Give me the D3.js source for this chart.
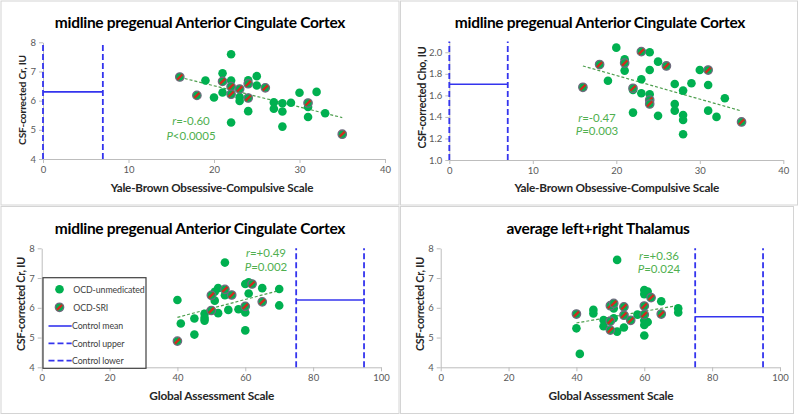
<!DOCTYPE html>
<html><head><meta charset="utf-8">
<script src="https://cdn.jsdelivr.net/npm/d3@7/dist/d3.min.js"></script>
<style>
body{margin:0;background:#fff;}
svg{display:block;font-family:Lato,"Open Sans",sans-serif;}
</style></head><body>
<svg id="c" width="800" height="415"></svg>
<script>
// ---------------- DATA ----------------
const titles = ["midline pregenual Anterior Cingulate Cortex","midline pregenual Anterior Cingulate Cortex","midline pregenual Anterior Cingulate Cortex","average left+right Thalamus"];
const xTitles = ["Yale-Brown Obsessive-Compulsive Scale","Yale-Brown Obsessive-Compulsive Scale","Global Assessment Scale","Global Assessment Scale"];
const yTitles = ["CSF-corrected Cr, IU","CSF-corrected Cho, IU","CSF-corrected Cr, IU","CSF-corrected Cr, IU"];
const xTicksYbocs = [0,10,20,30,40];
const xTicksGas = [0,20,40,60,80,100];
const yTicksCr = [4,5,6,7,8];
const yTicksCho = [1.0,1.2,1.4,1.6,1.8,2.0];
const legendLabels = ["OCD-unmedicated","OCD-SRI","Control mean","Control upper","Control lower"];
const statR = ["r=-0.60","r=-0.47","r=+0.49","r=+0.36"];
const statP = ["P<0.0005","P=0.003","P=0.002","P=0.024"];

// Panel 1: ACC Cr vs Y-BOCS
const accCrYbocsUnmed = [[19,6.69],[20,6.11],[21,6.94],[21,6.28],[22,7.59],[22,6.69],[22,5.25],[23,6.12],[23,5.99],[24,6.70],[24,5.64],[25,6.84],[25,6.52],[27,5.94],[27,5.72],[28,5.91],[28,5.63],[28,5.11],[29,5.93],[30,6.27],[31,5.78],[31,5.44],[32,6.30],[33,5.57]];
const accCrYbocsSri = [[16,6.81],[18,6.18],[21,6.66],[22,6.48],[22,6.22],[23,6.40],[24,6.58],[24,6.09],[26,6.44],[31,5.92],[35,4.85]];
const accCrYbocsTrend = [[16,6.80],[35,5.42]];
const accCrYbocsControl = {mean:6.30, lower:0, upper:7};

// Panel 2: ACC Cho vs Y-BOCS
const accChoYbocsUnmed = [[19,1.736],[20,2.043],[21,1.935],[21,1.83],[22,1.65],[22,1.44],[23,1.75],[23,1.62],[24,2.0],[24,1.835],[24,1.61],[25,1.913],[25,1.41],[27,1.706],[27,1.52],[27,1.458],[28,1.644],[28,1.418],[28,1.372],[28,1.239],[29,1.712],[30,1.835],[31,1.696],[31,1.458],[32,1.40],[33,1.573]];
const accChoYbocsSri = [[16,1.675],[18,1.886],[21,1.90],[22,1.666],[23,2.006],[24,1.557],[24,1.52],[26,1.873],[31,1.835],[35,1.353]];
const accChoYbocsTrend = [[16,1.873],[35,1.455]];
const accChoYbocsControl = {mean:1.703, lower:0, upper:7};

// Panel 3: ACC Cr vs GAS
const accCrGasUnmed = [[40,6.26],[41,5.47],[45,5.64],[45,5.10],[48,5.80],[48,5.66],[48,5.57],[51,6.54],[51,6.24],[52,6.66],[52,5.82],[54,7.52],[54,6.42],[55,5.93],[58,5.95],[60,6.80],[60,5.84],[60,5.24],[61,6.48],[61,6.86],[65,6.66],[70,6.63],[70,6.08]];
const accCrGasSri = [[40,4.88],[50,6.42],[50,5.91],[54,6.62],[56,6.43],[60,6.05],[62,6.80],[65,6.20]];
const accCrGasTrend = [[40,5.68],[70,6.58]];
const accCrGasControl = {mean:6.26, lower:75, upper:95};

// Panel 4: Thalamus Cr vs GAS
const thalCrGasUnmed = [[40,5.31],[41,4.45],[45,5.93],[45,5.81],[48,5.59],[48,5.38],[51,5.98],[51,5.65],[52,7.61],[52,5.20],[54,5.34],[58,5.77],[60,6.60],[60,6.46],[60,5.57],[60,5.42],[60,5.07],[61,6.55],[61,5.52],[65,6.22],[70,5.98],[70,5.84]];
const thalCrGasSri = [[40,5.79],[50,6.07],[50,5.55],[50,5.25],[51,6.15],[54,6.03],[54,5.75],[56,5.58],[60,6.06],[60,5.77],[62,6.34],[65,5.79]];
const thalCrGasTrend = [[40,5.49],[70,6.08]];
const thalCrGasControl = {mean:5.70, lower:75, upper:95};

// ---------------- LAYOUT ----------------
const GREEN = "#00B050", TXTGREEN = "#4FAF4F", BLUE = "#3434EE", RED = "#D02A1E";
const svg = d3.select("#c");

const panels = [
  {box:[1,1,398,204], x0:43, x1:385, y0:159, y1:42.3, xd:[0,40], xt:xTicksYbocs, yd:[4,8], yt:yTicksCr, yf:d3.format("d"),
   unmed:accCrYbocsUnmed, sri:accCrYbocsSri, trend:accCrYbocsTrend, ctrl:accCrYbocsControl,
   title:{x:200,y:27.5,w:290}, xtitle:{x:212,y:192,w:203}, ytitle:{x:26,y:100,w:90},
   stat:{x:191,y1:125,y2:140}},
  {box:[400.5,1,397,204], x0:449.3, x1:783.3, y0:160, y1:41.5, xd:[0,40], xt:xTicksYbocs, yd:[1.0,2.1], yt:yTicksCho, yf:d3.format(".1f"),
   unmed:accChoYbocsUnmed, sri:accChoYbocsSri, trend:accChoYbocsTrend, ctrl:accChoYbocsControl,
   title:{x:600,y:27.5,w:290}, xtitle:{x:616.7,y:192,w:205}, ytitle:{x:426,y:97.5,w:102},
   stat:{x:597,y1:121.7,y2:135}},
  {box:[1,206.5,398,207], x0:41.7, x1:381, y0:367.3, y1:248.3, xd:[0,100], xt:xTicksGas, yd:[4,8], yt:yTicksCr, yf:d3.format("d"),
   unmed:accCrGasUnmed, sri:accCrGasSri, trend:accCrGasTrend, ctrl:accCrGasControl,
   title:{x:200,y:233.5,w:290}, xtitle:{x:211.7,y:400,w:125}, ytitle:{x:25,y:304,w:94},
   stat:{x:266,y1:257,y2:271}, legend:true},
  {box:[400.5,206.5,393,207], x0:440.7, x1:780, y0:367.3, y1:248.3, xd:[0,100], xt:xTicksGas, yd:[4,8], yt:yTicksCr, yf:d3.format("d"),
   unmed:thalCrGasUnmed, sri:thalCrGasSri, trend:thalCrGasTrend, ctrl:thalCrGasControl,
   title:{x:598,y:233.5,w:183}, xtitle:{x:611,y:400,w:125}, ytitle:{x:424,y:304,w:94},
   stat:{x:659,y1:260,y2:272.7}}
];

function fit(sel, w){
  const L = sel.node().getComputedTextLength();
  const fs = parseFloat(sel.attr("font-size"));
  if (L>0) sel.attr("font-size", (fs*w/L).toFixed(2));
  return sel;
}

function drawSri(g, cx, cy, r){
  const m = g.append("g").attr("transform",`translate(${cx},${cy})`);
  m.append("circle").attr("r",r).attr("fill",GREEN).attr("stroke","#6E6A7E").attr("stroke-width",1.3);
  m.append("line").attr("x1",-r*0.6).attr("y1",r*0.6).attr("x2",r*0.6).attr("y2",-r*0.6)
    .attr("stroke",RED).attr("stroke-width",2.4);
}

panels.forEach((p,i)=>{
  const g = svg.append("g");
  g.append("rect").attr("x",p.box[0]).attr("y",p.box[1]).attr("width",p.box[2]).attr("height",p.box[3])
    .attr("fill","#fff").attr("stroke","#D4D4D4").attr("stroke-width",1);
  const x = d3.scaleLinear().domain(p.xd).range([p.x0,p.x1]);
  const y = d3.scaleLinear().domain(p.yd).range([p.y0,p.y1]);

  // axes
  const ax = g.append("g").attr("transform",`translate(0,${p.y0})`)
    .call(d3.axisBottom(x).tickValues(p.xt).tickSize(4).tickSizeOuter(0).tickPadding(3));
  const ay = g.append("g").attr("transform",`translate(${p.x0},0)`)
    .call(d3.axisLeft(y).tickValues(p.yt).tickFormat(p.yf).tickSize(4).tickSizeOuter(0).tickPadding(3));
  [ax,ay].forEach(a=>{
    a.select(".domain").attr("stroke","#BDBDBD");
    a.selectAll(".tick line").attr("stroke","#BDBDBD");
    a.selectAll("text").attr("fill","#595959").attr("font-size",9.5).attr("font-family","Lato,sans-serif");
  });

  // control lines
  const c = p.ctrl;
  g.append("line").attr("x1",x(c.lower)).attr("x2",x(c.upper)).attr("y1",y(c.mean)).attr("y2",y(c.mean))
    .attr("stroke",BLUE).attr("stroke-width",1.6);
  [c.upper,c.lower].forEach(v=>{
    g.append("line").attr("x1",x(v)).attr("x2",x(v)).attr("y1",y(p.yd[0])).attr("y2",y(p.yd[1]))
      .attr("stroke",BLUE).attr("stroke-width",1.8).attr("stroke-dasharray","6,3");
  });

  // trend line
  g.append("path").datum(p.trend)
    .attr("d", d3.line().x(d=>x(d[0])).y(d=>y(d[1])))
    .attr("stroke","#4E9E4E").attr("stroke-width",1.2).attr("stroke-dasharray","3,2").attr("fill","none");

  // points
  g.selectAll("circle.u").data(p.unmed).join("circle").attr("class","u")
    .attr("cx",d=>x(d[0])).attr("cy",d=>y(d[1])).attr("r",4.3).attr("fill",GREEN);
  p.sri.forEach(d=>drawSri(g, x(d[0]), y(d[1]), 4.2));

  // titles
  fit(g.append("text").attr("x",p.title.x).attr("y",p.title.y).attr("text-anchor","middle")
    .attr("font-weight","bold").attr("font-size",15).attr("fill","#000").attr("letter-spacing",-0.3).text(titles[i]), p.title.w);
  fit(g.append("text").attr("x",p.xtitle.x).attr("y",p.xtitle.y).attr("text-anchor","middle")
    .attr("font-weight","bold").attr("font-size",12).attr("fill","#262626").attr("letter-spacing",-0.2).text(xTitles[i]), p.xtitle.w);
  fit(g.append("text").attr("transform",`translate(${p.ytitle.x},${p.ytitle.y}) rotate(-90)`).attr("text-anchor","middle")
    .attr("font-weight","bold").attr("font-size",10.5).attr("fill","#262626").attr("letter-spacing",-0.2).text(yTitles[i]), p.ytitle.w);

  // stats
  const st = (txt, yy)=>{
    const t = g.append("text").attr("x",p.stat.x).attr("y",yy).attr("text-anchor","middle")
      .attr("font-size",11.5).attr("fill",TXTGREEN);
    t.append("tspan").attr("font-style","italic").text(txt[0]);
    t.append("tspan").text(txt.slice(1));
  };
  st(statR[i], p.stat.y1);
  st(statP[i], p.stat.y2);

  if (p.legend){
    const L = g.append("g");
    L.append("rect").attr("x",43).attr("y",277.7).attr("width",103).attr("height",90.6)
      .attr("fill","#fff").attr("stroke","#3F3F3F").attr("stroke-width",1.2);
    const ys = [289.3,307.3,326,343.3,360.7];
    L.append("circle").attr("cx",59.5).attr("cy",ys[0]).attr("r",4.3).attr("fill",GREEN);
    drawSri(L,59.5,ys[1],4.2);
    L.append("line").attr("x1",48.5).attr("x2",71.7).attr("y1",ys[2]).attr("y2",ys[2]).attr("stroke",BLUE).attr("stroke-width",1.6);
    [3,4].forEach(k=>L.append("line").attr("x1",48.5).attr("x2",71.7).attr("y1",ys[k]).attr("y2",ys[k])
      .attr("stroke",BLUE).attr("stroke-width",1.8).attr("stroke-dasharray","6,3"));
    legendLabels.forEach((lab,k)=>{
      L.append("text").attr("x", k<2?73.3:72).attr("y",ys[k]+3.3).attr("font-size",8.8)
        .attr("fill","#404040").attr("letter-spacing",-0.1).text(lab);
    });
  }
});
</script>
</body></html>
